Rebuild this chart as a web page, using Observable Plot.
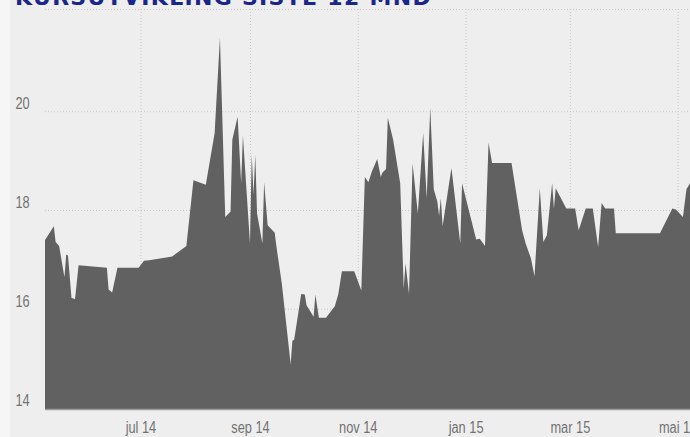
<!DOCTYPE html>
<html><head><meta charset="utf-8">
<script src="https://cdn.jsdelivr.net/npm/d3@7"></script>
<script src="https://cdn.jsdelivr.net/npm/@observablehq/plot@0.6"></script>
<style>
html,body{margin:0;padding:0;background:#f5f5f5;overflow:hidden;}
#wrap{position:relative;width:690px;height:437px;overflow:hidden;background:linear-gradient(to right,#f6f6f6 10px,#eeeeee 10px);}
#title{position:absolute;left:15px;top:-13px;font-family:"DejaVu Sans",sans-serif;font-weight:bold;font-size:22px;line-height:22px;letter-spacing:1.3px;color:#1b268a;white-space:nowrap;z-index:2;}
#chart{position:absolute;left:0;top:0;}
</style></head><body>
<div id="wrap"><div id="chart"></div><div id="title">KURSUTVIKLING SISTE 12 MND</div></div>
<script>
const dates = [
"2014-05-08","2014-05-13","2014-05-14","2014-05-16","2014-05-19","2014-05-20","2014-05-21","2014-05-23","2014-05-25","2014-05-27",
"2014-06-12","2014-06-13","2014-06-15","2014-06-18","2014-06-30","2014-07-03","2014-07-06","2014-07-19","2014-07-27","2014-07-31",
"2014-08-07","2014-08-12","2014-08-15","2014-08-18","2014-08-21","2014-08-22","2014-08-25","2014-08-27","2014-08-28","2014-09-01",
"2014-09-02","2014-09-03","2014-09-04","2014-09-05","2014-09-08","2014-09-09","2014-09-11","2014-09-15","2014-09-16","2014-09-19",
"2014-09-24","2014-09-25","2014-09-26","2014-09-30","2014-10-02","2014-10-03","2014-10-07","2014-10-08","2014-10-10","2014-10-14",
"2014-10-19","2014-10-21","2014-10-23","2014-10-30","2014-11-03","2014-11-05","2014-11-07","2014-11-09","2014-11-12","2014-11-14",
"2014-11-15","2014-11-17","2014-11-18","2014-11-21","2014-11-25","2014-11-27","2014-11-28","2014-11-30","2014-12-02","2014-12-05",
"2014-12-08","2014-12-10","2014-12-12","2014-12-14","2014-12-16","2014-12-17","2014-12-18","2014-12-19","2014-12-24","2014-12-29",
"2014-12-30","2015-01-07","2015-01-09","2015-01-12","2015-01-14","2015-01-16","2015-01-27","2015-02-02","2015-02-04","2015-02-07",
"2015-02-09","2015-02-12","2015-02-14","2015-02-16","2015-02-19","2015-02-20","2015-02-21","2015-02-27","2015-03-04","2015-03-06",
"2015-03-10","2015-03-14","2015-03-17","2015-03-19","2015-03-21","2015-03-26","2015-03-27","2015-04-21","2015-04-28","2015-04-30",
"2015-05-04","2015-05-06","2015-05-08"];
const prices = [
17.39,17.67,17.35,17.27,16.64,17.10,17.08,16.22,16.20,16.88,
16.83,16.39,16.33,16.83,16.83,16.97,16.98,17.06,17.27,18.60,
18.51,19.56,21.49,17.86,17.97,19.42,19.89,18.54,19.51,17.32,
19.12,18.31,19.12,17.93,17.32,18.56,17.69,17.54,17.25,16.51,
14.88,15.35,15.37,16.30,16.29,16.07,15.84,16.29,15.82,15.82,
16.05,16.30,16.76,16.76,16.37,18.67,18.56,18.78,19.03,18.67,
18.76,18.83,19.87,19.42,18.54,16.41,16.92,16.30,18.94,17.93,
19.56,18.24,20.07,18.42,18.17,17.88,18.24,17.67,18.85,17.32,
18.54,17.40,17.42,17.27,19.36,18.95,18.95,17.59,17.32,17.02,
16.66,18.44,17.35,17.49,18.54,18.03,18.44,18.03,18.03,17.59,
18.03,18.03,17.25,18.14,18.03,18.03,17.53,17.53,18.03,18.01,
17.86,18.42,18.54];
const xTickDates = ["2014-07-01","2014-09-01","2014-11-01","2015-01-01","2015-03-01","2015-05-01"];
const xTickLabels = ["jul 14","sep 14","nov 14","jan 15","mar 15","mai 15"];
const yTicks = [14,16,18,20];
const xDomain = ["2014-05-08","2015-05-08"];
const yDomain = [13.97, 22.07];

const data = dates.map((d, i) => ({date: new Date(d), value: prices[i]}));
const xTicks = xTickDates.map(d => new Date(d));
const labelMap = new Map(xTicks.map((d, i) => [+d, xTickLabels[i]]));
const grid = {stroke: "#c9c9c9", strokeOpacity: 1, strokeDasharray: "1,2"};

const chart = Plot.plot({
  width: 690, height: 437,
  marginLeft: 45, marginRight: 0, marginTop: 9, marginBottom: 28,
  style: {background: "transparent", fontFamily: "'Liberation Sans',Arial,sans-serif", fontSize: "16px", color: "#727272"},
  x: {type: "utc", domain: xDomain.map(d => new Date(d))},
  y: {domain: yDomain},
  marks: [
    Plot.gridX(xTicks, grid),
    Plot.gridY(yTicks, grid),
    Plot.ruleY([yDomain[1]], grid),
    Plot.area(data, {x1: "date", y1: () => yDomain[0], y2: "value", fill: "#616161"}),
    Plot.ruleY([yDomain[0]], {stroke: "#9a9a9a", strokeWidth: 1.5}),
    Plot.axisX(xTicks, {tickSize: 0, tickPadding: 12, tickFormat: d => labelMap.get(+d), label: null}),
    Plot.axisY(yTicks, {tickSize: 0, tickPadding: 0, textAnchor: "start", dx: -30, dy: -7.5, label: null})
  ]
});
document.getElementById("chart").appendChild(chart);
// narrow the tick labels (condensed look)
chart.querySelectorAll("text").forEach(t => {
  const w = t.getComputedTextLength();
  if (w > 0) {
    t.setAttribute("textLength", (w * 0.8).toFixed(1));
    t.setAttribute("lengthAdjust", "spacingAndGlyphs");
  }
});
</script>
</body></html>
